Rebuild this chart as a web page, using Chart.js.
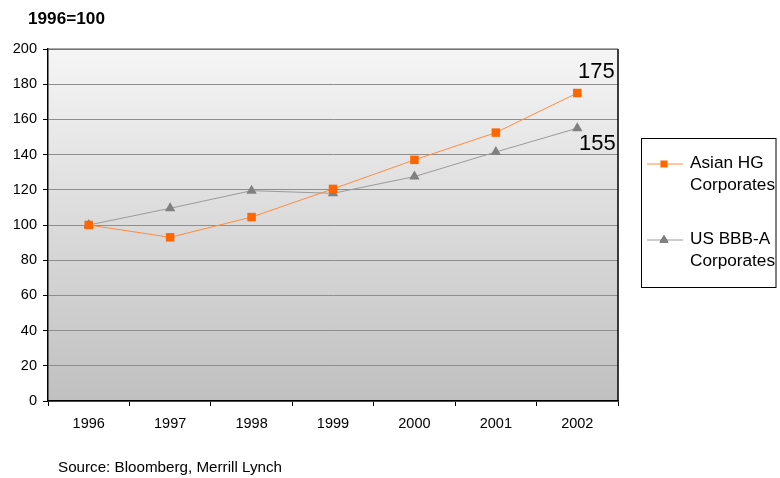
<!DOCTYPE html>
<html>
<head>
<meta charset="utf-8">
<script src="https://cdn.jsdelivr.net/npm/chart.js@4/dist/chart.umd.min.js"></script>
<style>
  html, body { margin: 0; padding: 0; background: #ffffff; }
  #wrap { position: relative; width: 780px; height: 478px; }
</style>
</head>
<body>
<div id="wrap"><canvas id="c" width="780" height="478"></canvas></div>
<script>
// Index levels, 1996 = 100
const years = ['1996', '1997', '1998', '1999', '2000', '2001', '2002'];
const asianHG = [100, 93, 104.5, 120.5, 137, 152.5, 175];
const usBBBA = [100, 109.5, 119.5, 118, 127.5, 141.5, 155];
const seriesNames = [['Asian HG', 'Corporates'], ['US BBB-A', 'Corporates']];
const endLabels = ['175', '155'];
const yTicks = [0, 20, 40, 60, 80, 100, 120, 140, 160, 180, 200];

const FONT = '"Liberation Sans", Arial, sans-serif';

// Gradient plot background plus the frame on the top and right
const plotFrame = {
  id: 'plotFrame',
  beforeDraw(chart) {
    const { ctx, chartArea: a } = chart;
    const g = ctx.createLinearGradient(0, a.top, 0, a.bottom);
    g.addColorStop(0, '#f5f5f5');
    g.addColorStop(1, '#c0c0c0');
    ctx.save();
    ctx.fillStyle = g;
    ctx.fillRect(a.left, a.top, a.right - a.left, a.bottom - a.top);
    ctx.restore();
  },
  afterDatasetsDraw(chart) {
    const { ctx, chartArea: a } = chart;
    ctx.save();
    ctx.strokeStyle = '#000';
    ctx.lineWidth = 1.5;
    ctx.beginPath();
    ctx.moveTo(a.right, a.top);
    ctx.lineTo(a.right, a.bottom);
    ctx.stroke();
    ctx.strokeStyle = '#555';
    ctx.lineWidth = 1.2;
    ctx.beginPath();
    ctx.moveTo(a.left, a.top);
    ctx.lineTo(a.right, a.top);
    ctx.stroke();
    ctx.restore();
  }
};

// Value labels beside the final points, legend box, heading and source line
const annotations = {
  id: 'annotations',
  afterDraw(chart) {
    const { ctx } = chart;
    ctx.save();
    // end-point values
    ctx.fillStyle = '#000';
    ctx.font = '22px ' + FONT;
    ctx.textAlign = 'center';
    ctx.textBaseline = 'middle';
    const last = years.length - 1;
    const p0 = chart.getDatasetMeta(0).data[last];
    const p1 = chart.getDatasetMeta(1).data[last];
    ctx.fillText(endLabels[0], p0.x + 19, p0.y - 21);
    ctx.fillText(endLabels[1], p1.x + 20, p1.y + 16);

    // heading
    ctx.textAlign = 'left';
    ctx.font = 'bold 17.2px ' + FONT;
    ctx.fillText('1996=100', 28, 19);

    // source
    ctx.font = '15.2px ' + FONT;
    ctx.fillText('Source: Bloomberg, Merrill Lynch', 58, 468);

    // legend box
    const bx = 641.5, by = 138.5, bw = 134.5, bh = 149;
    ctx.fillStyle = '#fff';
    ctx.fillRect(bx, by, bw, bh);
    ctx.strokeStyle = '#000';
    ctx.lineWidth = 1;
    ctx.strokeRect(bx, by, bw, bh);
    ctx.beginPath();
    ctx.rect(bx, by, bw, bh);
    ctx.clip();
    const rows = [164, 240];
    chart.data.datasets.forEach((ds, i) => {
      const y = rows[i];
      ctx.strokeStyle = ds.borderColor;
      ctx.lineWidth = 1;
      ctx.beginPath();
      ctx.moveTo(647, y);
      ctx.lineTo(683, y);
      ctx.stroke();
      Chart.helpers.drawPoint(ctx, {
        pointStyle: ds.pointStyle,
        radius: ds.pointRadius * 0.85,
        rotation: 0,
        borderWidth: 0
      }, 664, y);
      ctx.fillStyle = ds.pointBackgroundColor;
      ctx.fill();
      ctx.fillStyle = '#000';
      ctx.font = '17.2px ' + FONT;
      ctx.textAlign = 'left';
      ctx.textBaseline = 'middle';
      ctx.fillText(seriesNames[i][0], 690, y - 1);
      ctx.fillText(seriesNames[i][1], 690, y + 21);
    });
    ctx.restore();
  }
};

new Chart(document.getElementById('c'), {
  type: 'line',
  data: {
    labels: years,
    datasets: [
      {
        label: seriesNames[0].join(' '),
        data: asianHG,
        borderColor: '#ff8c40',
        borderWidth: 1,
        pointStyle: 'rect',
        pointRadius: 6,
        pointBackgroundColor: '#ff6600',
        pointBorderWidth: 0,
        tension: 0
      },
      {
        label: seriesNames[1].join(' '),
        data: usBBBA,
        borderColor: '#9a9a9a',
        borderWidth: 1,
        pointStyle: 'triangle',
        pointRadius: 6,
        pointBackgroundColor: '#808080',
        pointBorderWidth: 0,
        tension: 0
      }
    ]
  },
  options: {
    responsive: false,
    animation: false,
    devicePixelRatio: 1,
    layout: { padding: { left: 0, top: 49, right: 162, bottom: 0 } },
    plugins: {
      legend: { display: false },
      tooltip: { enabled: false }
    },
    scales: {
      x: {
        offset: true,
        grid: {
          offset: true,
          drawOnChartArea: false,
          tickLength: 5,
          tickColor: '#000'
        },
        border: { color: '#000', width: 1.5 },
        ticks: { color: '#000', font: { family: FONT, size: 14.5 }, padding: 9, maxRotation: 0 },
        afterFit(s) { s.height = 77; }
      },
      y: {
        min: 0,
        max: 200,
        afterBuildTicks(s) { s.ticks = yTicks.map(v => ({ value: v })); },
        grid: {
          color: '#8e8e8e',
          lineWidth: 1,
          tickLength: 5,
          tickColor: '#000'
        },
        border: { color: '#000', width: 1.5 },
        ticks: { color: '#000', font: { family: FONT, size: 14.5 }, padding: 6 },
        afterFit(s) { s.width = 48; }
      }
    }
  },
  plugins: [plotFrame, annotations]
});
</script>
</body>
</html>
